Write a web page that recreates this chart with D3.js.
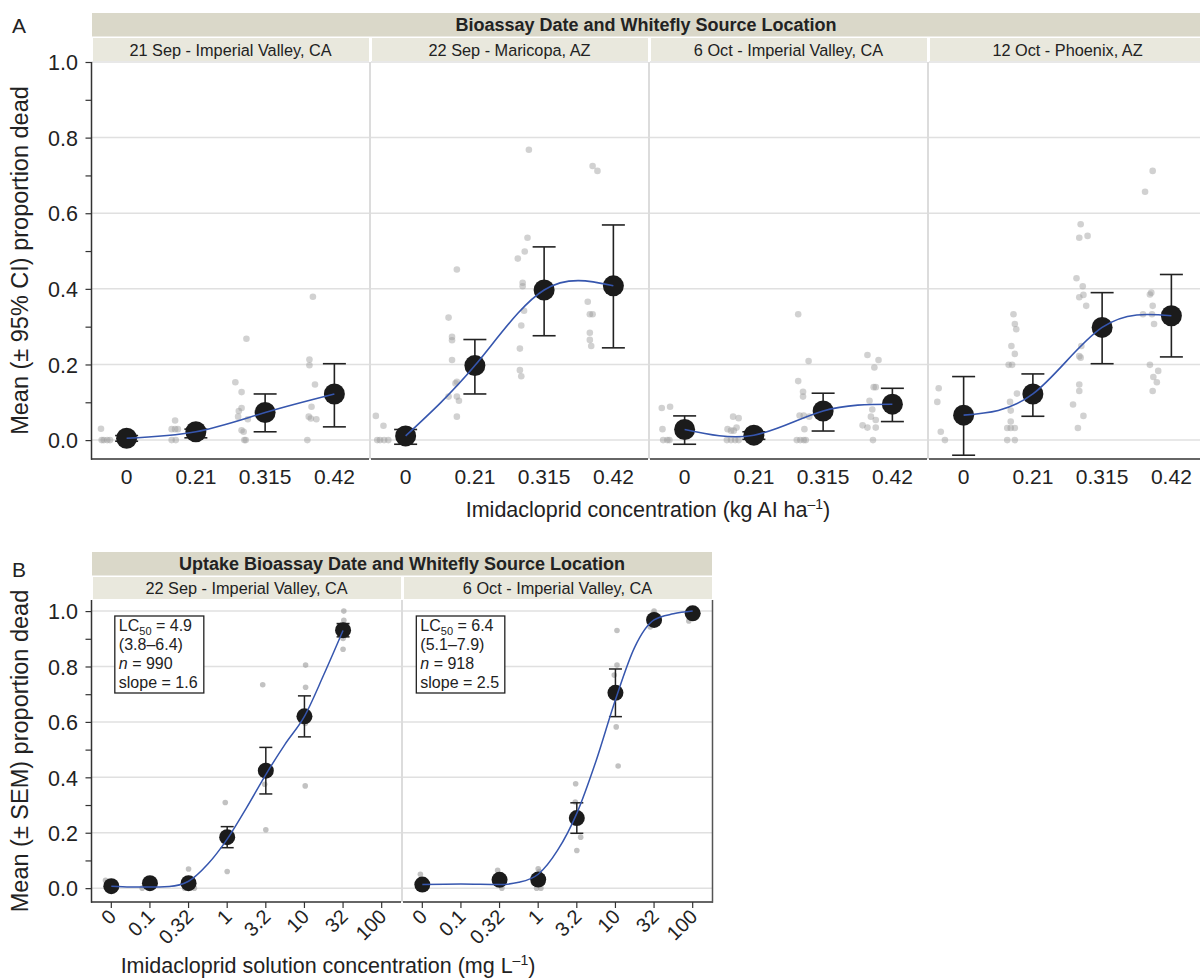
<!DOCTYPE html>
<html><head><meta charset="utf-8">
<script src="https://cdn.jsdelivr.net/npm/d3@7"></script>
<style>
body{margin:0;background:#fff}
svg{display:block}
text{font-family:"Liberation Sans",Arial,Helvetica,sans-serif;fill:#222}
</style>
</head><body>
<svg id="chart" width="1200" height="979"></svg>
<script>
// ---------------- DATA ----------------
// Panel A
const doseA = ["0", "0.21", "0.315", "0.42"];
const facetA = ["21 Sep - Imperial Valley, CA", "22 Sep - Maricopa, AZ", "6 Oct - Imperial Valley, CA", "12 Oct - Phoenix, AZ"];
const meanA = [
  [0.005, 0.022, 0.073, 0.122],
  [0.011, 0.197, 0.397, 0.408],
  [0.028, 0.013, 0.077, 0.095],
  [0.066, 0.122, 0.298, 0.329]
];
const ciLowA = [
  [-0.003, 0.006, 0.022, 0.035],
  [-0.011, 0.122, 0.276, 0.244],
  [-0.011, 0.002, 0.024, 0.049],
  [-0.040, 0.063, 0.202, 0.220]
];
const ciHighA = [
  [0.012, 0.029, 0.122, 0.202],
  [0.028, 0.266, 0.511, 0.569],
  [0.064, 0.022, 0.124, 0.137],
  [0.168, 0.175, 0.390, 0.438]
];
// raw observations: [dose index, proportion dead, horizontal jitter (fraction of category step)]
const rawA = [
  [[0,0.03,-0.37],[0,0,-0.36],[0,0,-0.33],[0,0,-0.28],[0,0,-0.24],
   [1,0.052,-0.30],[1,0.029,-0.35],[1,0.029,-0.30],[1,0.029,-0.26],[1,0,-0.35],[1,0,-0.29],
   [2,0.268,-0.27],[2,0.153,-0.43],[2,0.127,-0.34],[2,0.085,-0.34],[2,0.077,-0.38],[2,0.062,-0.39],[2,0.055,-0.25],[2,0.026,-0.34],[2,0.022,-0.31],[2,0,-0.30],[2,0,-0.28],
   [3,0.379,-0.31],[3,0.213,-0.36],[3,0.198,-0.36],[3,0.147,-0.28],[3,0.088,-0.33],[3,0.062,-0.37],[3,0.057,-0.34],[3,0.055,-0.26],[3,0,-0.39]],
  [[0,0.064,-0.43],[0,0.038,-0.32],[0,0,-0.41],[0,0,-0.37],[0,0,-0.31],[0,0,-0.25],
   [1,0.451,-0.26],[1,0.324,-0.38],[1,0.273,-0.33],[1,0.264,-0.33],[1,0.212,-0.33],[1,0.154,-0.26],[1,0.15,-0.28],[1,0.115,-0.38],[1,0.115,-0.26],[1,0.104,-0.23],[1,0.062,-0.26],
   [2,0.768,-0.22],[2,0.535,-0.24],[2,0.499,-0.28],[2,0.48,-0.38],[2,0.416,-0.31],[2,0.407,-0.31],[2,0.342,-0.29],[2,0.303,-0.33],[2,0.242,-0.35],[2,0.185,-0.35],[2,0.169,-0.33],
   [3,0.725,-0.30],[3,0.712,-0.23],[3,0.366,-0.37],[3,0.333,-0.34],[3,0.333,-0.30],[3,0.284,-0.34],[3,0.265,-0.34],[3,0.249,-0.32]],
  [[0,0.085,-0.33],[0,0.088,-0.21],[0,0.029,-0.32],[0,0,-0.31],[0,0,-0.25],[0,0,-0.22],
   [1,0.062,-0.30],[1,0.058,-0.22],[1,0.033,-0.25],[1,0.029,-0.38],[1,0.025,-0.33],[1,0.025,-0.29],[1,0,-0.39],[1,0,-0.33],[1,0,-0.27],[1,0,-0.22],
   [2,0.333,-0.36],[2,0.209,-0.21],[2,0.156,-0.36],[2,0.128,-0.29],[2,0.115,-0.29],[2,0.065,-0.34],[2,0.065,-0.28],[2,0.062,-0.20],[2,0.029,-0.27],[2,0,-0.38],[2,0,-0.33],[2,0,-0.28],[2,0,-0.25],
   [3,0.225,-0.36],[3,0.212,-0.20],[3,0.192,-0.26],[3,0.14,-0.24],[3,0.14,-0.27],[3,0.104,-0.33],[3,0.081,-0.29],[3,0.062,-0.31],[3,0.053,-0.24],[3,0.039,-0.43],[3,0.033,-0.36],[3,0.033,-0.24],[3,0,-0.28]],
  [[0,0.137,-0.36],[0,0.101,-0.38],[0,0.022,-0.33],[0,0,-0.27],
   [1,0.333,-0.28],[1,0.307,-0.26],[1,0.293,-0.24],[1,0.249,-0.31],[1,0.228,-0.26],[1,0.199,-0.35],[1,0.199,-0.30],[1,0.123,-0.23],[1,0.101,-0.33],[1,0.078,-0.32],[1,0.049,-0.32],[1,0.032,-0.37],[1,0.032,-0.32],[1,0.032,-0.26],[1,0,-0.37],[1,0,-0.26],
   [2,0.571,-0.31],[2,0.535,-0.33],[2,0.54,-0.21],[2,0.428,-0.37],[2,0.407,-0.28],[2,0.378,-0.33],[2,0.384,-0.27],[2,0.355,-0.23],[2,0.249,-0.30],[2,0.222,-0.33],[2,0.218,-0.31],[2,0.147,-0.33],[2,0.13,-0.33],[2,0.094,-0.42],[2,0.064,-0.27],[2,0.032,-0.35],
   [3,0.712,-0.27],[3,0.657,-0.38],[3,0.385,-0.31],[3,0.39,-0.29],[3,0.355,-0.27],[3,0.333,-0.41],[3,0.333,-0.28],[3,0.307,-0.25],[3,0.199,-0.31],[3,0.183,-0.19],[3,0.167,-0.26],[3,0.153,-0.21],[3,0.13,-0.27]]
];
const yTicksA = [0, 0.2, 0.4, 0.6, 0.8, 1.0];

// Panel B
const doseB = ["0", "0.1", "0.32", "1", "3.2", "10", "32", "100"];
const facetB = ["22 Sep - Imperial Valley, CA", "6 Oct - Imperial Valley, CA"];
// [dose index, mean, SEM]
const meanB = [
  [[0,0.007,0.003],[1,0.018,0.004],[2,0.018,0.010],[3,0.184,0.038],[4,0.424,0.084],[5,0.620,0.074],[6,0.931,0.024]],
  [[0,0.013,0.004],[2,0.030,0.008],[3,0.031,0.016],[4,0.253,0.055],[5,0.705,0.086],[6,0.968,0.010],[7,0.992,0.004]]
];
const rawB = [
  [[0,0.028,-0.15],[0,0,0],[0,0.01,0.1],[0,0,0.12],[0,0.02,-0.1],
   [1,0,-0.2],[1,0,0],[1,0.01,0.05],
   [2,0.069,0],[2,0,-0.1],[2,0,0.15],
   [3,0.309,-0.05],[3,0.06,0],
   [4,0.734,-0.08],[4,0.375,-0.03],[4,0.211,0],
   [5,0.805,0.03],[5,0.725,0.03],[5,0.594,0.02],[5,0.369,0.02],
   [6,1.0,0.02],[6,0.967,0.02],[6,0.901,0],[6,0.862,0]],
  [[0,0.05,-0.05],[0,0,-0.05],[0,0,0],[0,0.01,0.05],
   [2,0.064,-0.05],[2,0,0.06],[2,0.02,0],
   [3,0.07,0],[3,0.06,0.03],[3,0,-0.04],[3,0,0.07],
   [4,0.377,-0.03],[4,0.311,-0.04],[4,0.184,0.1],[4,0.136,0],
   [5,0.93,0.04],[5,0.805,0.04],[5,0.769,-0.03],[5,0.582,0.02],[5,0.441,0.07],
   [6,1.0,0],[6,0.99,0],[6,0.943,-0.1],
   [7,0.964,-0.1],[7,1.0,0],[7,0.99,0.05]]
];
// fitted dose-response curves: [dose index position, proportion]
const fitB = [
  [[0,0.007],[0.5,0.004],[1,0.004],[1.5,0.006],[2,0.025],[2.5,0.087],[3,0.177],[3.5,0.29],[4,0.41],[4.5,0.52],[5,0.62],[5.5,0.77],[6,0.93]],
  [[0,0.013],[1,0.015],[2,0.013],[2.5,0.021],[3,0.05],[3.5,0.136],[4,0.27],[4.5,0.46],[5,0.68],[5.5,0.87],[6,0.968],[6.5,0.99],[7,1.0]]
];
const lcB = [
  {lc:"4.9", ci:"(3.8–6.4)", n:"990", slope:"1.6"},
  {lc:"6.4", ci:"(5.1–7.9)", n:"918", slope:"2.5"}
];
const yTicksB = [0, 0.2, 0.4, 0.6, 0.8, 1.0];

// ---------------- DRAW ----------------
const svg = d3.select("#chart");
const gridCol = "#e0e0e0", axisCol = "#333", stripOuter = "#dad8c9", stripInner = "#e9e8dd";
const curveCol = "#3656ae";

function drawPanel(cfg) {
  const {left, facetW, gap, top, bottom, stripTop, yDomain, facets, doses, title, letter, letterY, yTitle, xTitle, xTitleX, xTitleY, yTicks} = cfg;
  const nF = facets.length;
  const rightEnd = left + nF * facetW + (nF - 1) * gap;
  const y = d3.scaleLinear().domain(yDomain).range([bottom, top]);
  const right = Math.min(rightEnd, 1200);
  // outer strip
  svg.append("rect").attr("x", left).attr("y", stripTop).attr("width", right - left).attr("height", 23.5).attr("fill", stripOuter);
  svg.append("text").attr("x", (left + right) / 2).attr("y", stripTop + 18)
    .attr("text-anchor", "middle").attr("font-size", 18).attr("font-weight", "bold").text(title);
  svg.append("text").attr("x", 12).attr("y", letterY).attr("font-size", 21).text(letter);

  const xs = [];
  const innerH = top - stripTop - 26;
  facets.forEach((fname, i) => {
    const x0 = left + i * (facetW + gap);
    const x = d3.scalePoint().domain(d3.range(doses.length)).range([x0, x0 + facetW]).padding(0.5);
    xs.push(x);
    // inner strip
    svg.append("rect").attr("x", x0 + 1).attr("y", stripTop + 25).attr("width", facetW - 1).attr("height", innerH).attr("fill", stripInner);
    svg.append("text").attr("x", x0 + facetW / 2).attr("y", stripTop + 25 + innerH / 2 + 6)
      .attr("text-anchor", "middle").attr("font-size", 16.3).text(fname);
    // gridlines
    svg.append("g").selectAll("line").data(yTicks).join("line")
      .attr("x1", x0).attr("x2", x0 + facetW).attr("y1", d => y(d)).attr("y2", d => y(d))
      .attr("stroke", gridCol).attr("stroke-width", 1.5);
    // bottom axis line
    svg.append("line").attr("x1", x0 - (i === 0 ? 1 : 0)).attr("x2", x0 + facetW + (i < nF - 1 ? 0 : 1)).attr("y1", bottom).attr("y2", bottom)
      .attr("stroke", axisCol).attr("stroke-width", 1.5);
    // separator
    if (i < nF - 1) {
      svg.append("rect").attr("x", x0 + facetW).attr("y", top).attr("width", gap).attr("height", bottom - top).attr("fill", "#dcdcdc");
    }
  });
  // left axis
  const yAxis = d3.axisLeft(y).tickValues(d3.range(0, 1.0001, 0.1)).tickSize(6.5)
    .tickFormat(d => (Math.round(d * 10) % 2 === 0) ? d3.format(".1f")(d) : "");
  const ga = svg.append("g").attr("transform", `translate(${left},0)`).call(yAxis);
  ga.select(".domain").attr("stroke", axisCol).attr("stroke-width", 1.5).attr("d", `M-0.5,${top}V${bottom + 0.75}`);
  ga.selectAll(".tick line").attr("stroke", axisCol).attr("stroke-width", 1.2);
  ga.selectAll(".tick text").attr("font-size", 21.5).attr("font-family", '"Liberation Sans",Arial,sans-serif').attr("fill", "#222").attr("x", -14).attr("dy", "0.36em");
  // y title
  svg.append("text").attr("transform", `translate(28,${(top + bottom) / 2}) rotate(-90)`)
    .attr("text-anchor", "middle").attr("font-size", cfg.yTitleSize).text(yTitle);
  // x title
  const xt = svg.append("text").attr("x", xTitleX).attr("y", xTitleY).attr("text-anchor", "middle").attr("font-size", 21.5);
  xt.append("tspan").text(xTitle[0]);
  xt.append("tspan").attr("font-size", 14).attr("dy", -8).text("–1");
  xt.append("tspan").attr("dy", 8).text(")");
  return {y, xs, rightEnd};
}

// ---- Panel A ----
const A = drawPanel({left: 92, facetW: 277, gap: 2, top: 62, bottom: 459, stripTop: 13, yDomain: [-0.05, 1.0], yTicks: yTicksA,
  facets: facetA, doses: doseA, title: "Bioassay Date and Whitefly Source Location", letter: "A", letterY: 33,
  yTitle: "Mean (± 95% CI) proportion dead", yTitleSize: 23.5, xTitle: ["Imidacloprid concentration (kg AI ha"], xTitleX: 648, xTitleY: 517});

facetA.forEach((f, i) => {
  const x = A.xs[i], y = A.y, step = x.step();
  const g = svg.append("g");
  // x tick labels
  g.selectAll("text.xl").data(doseA).join("text").attr("x", (d, k) => x(k)).attr("y", 484)
    .attr("text-anchor", "middle").attr("font-size", 21).text(d => d);
  // raw points
  g.selectAll("circle.raw").data(rawA[i]).join("circle")
    .attr("cx", d => x(d[0]) + d[2] * step).attr("cy", d => y(d[1])).attr("r", 3.3)
    .attr("fill", "#9a9a9a").attr("fill-opacity", 0.45);
  // error bars
  const cap = 11.5;
  doseA.forEach((d, k) => {
    const cx = x(k);
    g.append("line").attr("x1", cx).attr("x2", cx).attr("y1", y(ciLowA[i][k])).attr("y2", y(ciHighA[i][k])).attr("stroke", "#222").attr("stroke-width", 1.6);
    [ciLowA[i][k], ciHighA[i][k]].forEach(v => g.append("line").attr("x1", cx - cap).attr("x2", cx + cap).attr("y1", y(v)).attr("y2", y(v)).attr("stroke", "#222").attr("stroke-width", 1.6));
  });
  // means
  g.selectAll("circle.mean").data(meanA[i]).join("circle")
    .attr("cx", (d, k) => x(k)).attr("cy", d => y(d)).attr("r", 10.5).attr("fill", "#1b1b1b");
  // smooth fitted line
  const line = d3.line().x((d, k) => x(k)).y(d => y(d)).curve(d3.curveNatural);
  g.append("path").attr("d", line(meanA[i])).attr("fill", "none").attr("stroke", curveCol).attr("stroke-width", 1.6);
});

// ---- Panel B ----
const B = drawPanel({left: 92, facetW: 309, gap: 2, top: 600, bottom: 902, stripTop: 552, yDomain: [-0.05, 1.04], yTicks: yTicksB,
  facets: facetB, doses: doseB, title: "Uptake Bioassay Date and Whitefly Source Location", letter: "B", letterY: 577,
  yTitle: "Mean (± SEM) proportion dead", yTitleSize: 23.5, xTitle: ["Imidacloprid solution concentration (mg L"], xTitleX: 328, xTitleY: 973});
// right border of panel B
svg.append("line").attr("x1", B.rightEnd + 0.5).attr("x2", B.rightEnd + 0.5).attr("y1", 600).attr("y2", 902.75).attr("stroke", "#555").attr("stroke-width", 1.5);

facetB.forEach((f, i) => {
  const x = B.xs[i], y = B.y, step = x.step();
  const g = svg.append("g");
  const xi = d3.scaleLinear().domain([0, doseB.length - 1]).range([x(0), x(doseB.length - 1)]);
  // x ticks and rotated labels
  doseB.forEach((d, k) => {
    g.append("line").attr("x1", x(k)).attr("x2", x(k)).attr("y1", 902).attr("y2", 908).attr("stroke", axisCol).attr("stroke-width", 1.2);
    g.append("text").attr("transform", `translate(${x(k) + 6},${918}) rotate(-45)`)
      .attr("text-anchor", "end").attr("font-size", 20).text(d);
  });
  // raw points
  g.selectAll("circle.raw").data(rawB[i]).join("circle")
    .attr("cx", d => x(d[0]) + d[2] * step).attr("cy", d => y(d[1])).attr("r", 2.8)
    .attr("fill", "#9a9a9a").attr("fill-opacity", 0.6);
  // error bars
  const cap = 6.5;
  meanB[i].forEach(d => {
    const cx = x(d[0]);
    const lo = d[1] - d[2], hi = d[1] + d[2];
    g.append("line").attr("x1", cx).attr("x2", cx).attr("y1", y(lo)).attr("y2", y(hi)).attr("stroke", "#222").attr("stroke-width", 1.5);
    [lo, hi].forEach(v => g.append("line").attr("x1", cx - cap).attr("x2", cx + cap).attr("y1", y(v)).attr("y2", y(v)).attr("stroke", "#222").attr("stroke-width", 1.5));
  });
  // means
  g.selectAll("circle.mean").data(meanB[i]).join("circle")
    .attr("cx", d => x(d[0])).attr("cy", d => y(d[1])).attr("r", 8).attr("fill", "#1b1b1b");
  // fitted curve
  const line = d3.line().x(d => xi(d[0])).y(d => y(d[1])).curve(d3.curveMonotoneX);
  g.append("path").attr("d", line(fitB[i])).attr("fill", "none").attr("stroke", curveCol).attr("stroke-width", 1.5);
  // LC50 box
  const bx = x(0) + (i === 0 ? 3.5 : -6), by = 616;
  g.append("rect").attr("x", bx).attr("y", by).attr("width", i === 0 ? 89 : 88.5).attr("height", 77)
    .attr("fill", "#fff").attr("stroke", "#222").attr("stroke-width", 1.3);
  const L = lcB[i], tx = bx + 4, fs = 16;
  const t1 = g.append("text").attr("x", tx).attr("y", by + 15).attr("font-size", fs);
  t1.append("tspan").text("LC");
  t1.append("tspan").attr("font-size", 11).attr("dy", 4).text("50");
  t1.append("tspan").attr("dy", -4).text(" = " + L.lc);
  g.append("text").attr("x", tx).attr("y", by + 34).attr("font-size", fs).text(L.ci);
  const t3 = g.append("text").attr("x", tx).attr("y", by + 53).attr("font-size", fs);
  t3.append("tspan").attr("font-style", "italic").text("n");
  t3.append("tspan").text(" = " + L.n);
  g.append("text").attr("x", tx).attr("y", by + 72).attr("font-size", fs).text("slope = " + L.slope);
});
</script>
</body></html>
